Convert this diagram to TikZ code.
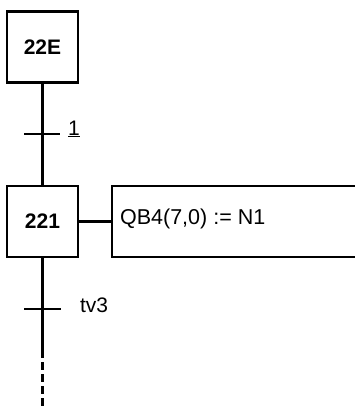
\documentclass[tikz,border=0pt]{standalone}
\usepackage{fontspec}
\setmainfont{Liberation Sans}
\begin{document}
\begin{tikzpicture}[x=1pt,y=-1pt,
  line width=2.2pt,
  stepbox/.style={draw,line width=2.4pt,minimum width=71pt,minimum height=71pt,inner sep=0pt,font=\fontsize{21}{21}\selectfont\bfseries},
  lbl/.style={anchor=west,inner sep=0pt,font=\fontsize{21.5}{21.5}\selectfont},
  bar/.style={line width=2.2pt}]
\useasboundingbox (0,0) rectangle (355,410);
\node[stepbox] (s22E) at (42.5,47) {22E};
\node[stepbox] (s221) at (42.5,221.5) {221};
\coordinate (t1l) at (24,134);
\coordinate (t1r) at (60,134);
\coordinate (tvl) at (24,309);
\coordinate (tvr) at (61,309);
\coordinate (mid) at (42.5,350);
\coordinate (end) at (42.5,410);
\draw (s22E.south) -- (s221.north);
\draw[bar] (t1l) -- (t1r);
\node[lbl,font=\fontsize{21}{21}\selectfont] (l1) at (67,129) {\underline{1}};
\draw (s221.south) -- (mid);
\draw[dashed,dash pattern=on 8pt off 4pt] (mid) -- (end);
\draw[bar] (tvl) -- (tvr);
\node[lbl,font=\fontsize{21}{21}\selectfont] (ltv) at (79,305) {tv3};
% action box
\coordinate (a1) at (357,186);
\coordinate (a2) at (357,257);
\coordinate (al1) at (112,186);
\coordinate (al2) at (112,257);
\draw[line width=2.4pt] (a1) -- (al1) -- (al2) -- (a2);
\node[lbl] (act) at (119,219) {QB4(7,0) := N1};
\draw (s221.east) -- (112,221.5);
\end{tikzpicture}
\end{document}
